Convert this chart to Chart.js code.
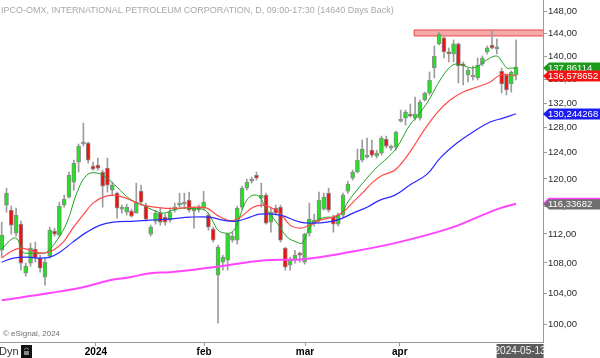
<!DOCTYPE html>
<html><head><meta charset="utf-8">
<script src="https://cdn.jsdelivr.net/npm/chart.js@4.4.1/dist/chart.umd.min.js"></script>
<style>html,body{margin:0;padding:0;background:#fff;overflow:hidden}canvas{display:block}</style>
</head><body>
<canvas id="c" width="600" height="358"></canvas>
<script>
// ---- data ----
const opens = [109.74,116.13,115.40,112.12,113.39,106.62,107.97,109.88,108.65,106.08,
108.92,112.40,111.84,116.13,117.30,119.53,122.57,125.38,125.53,121.96,
122.11,121.05,121.65,118.33,117.88,115.55,115.11,115.26,114.97,118.18,
115.98,111.98,113.82,114.97,114.39,113.96,115.40,116.13,116.42,116.86,
115.26,115.83,115.69,114.68,112.68,106.35,108.10,108.37,111.13,111.13,
115.83,118.63,119.68,120.59,117.15,117.59,113.67,115.69,115.83,110.02,
107.70,108.37,109.33,108.10,112.12,113.53,113.96,115.55,117.88,114.39,
113.39,114.68,118.18,120.14,121.05,122.88,123.34,124.43,123.50,123.96,
126.17,124.90,124.90,129.05,129.53,130.18,129.53,129.53,132.50,133.66,
137.93,142.16,143.24,140.74,140.38,142.16,138.64,136.73,136.56,136.21,
138.64,140.74,141.98,141.27,137.42,136.73,135.19,136.73];
const highs = [113.67,118.63,115.98,115.69,113.82,107.97,110.72,110.86,109.06,108.65,
112.96,112.82,116.57,117.59,121.05,122.88,125.38,128.72,125.69,122.57,
123.19,121.35,123.19,119.53,118.04,116.13,116.28,115.55,119.38,119.08,
116.42,113.25,115.40,115.69,114.82,115.69,116.42,117.88,117.88,118.04,
115.83,116.13,118.18,114.97,112.96,110.44,109.06,112.12,112.26,115.98,
118.93,120.00,120.29,121.05,119.38,117.88,115.83,116.13,116.13,110.16,
108.79,109.74,109.47,112.12,116.42,114.82,118.04,117.88,118.63,114.68,
114.97,117.88,119.68,121.35,124.58,126.01,126.33,126.01,124.43,126.64,
126.64,125.22,127.44,130.84,130.84,131.83,133.00,132.50,133.83,137.25,
141.80,144.31,143.42,141.45,142.88,142.34,138.98,137.93,138.29,139.68,
140.03,141.80,144.49,143.06,137.93,136.90,137.42,142.88];
const lows = [108.79,115.11,111.98,111.70,107.02,106.22,107.56,108.10,106.75,105.02,
108.65,111.70,111.56,115.83,117.15,118.33,121.05,125.06,122.42,121.35,
121.35,115.83,118.04,117.59,114.25,114.97,114.68,114.39,114.97,116.13,
113.82,111.70,113.39,113.25,113.25,113.67,115.11,115.83,115.69,115.11,
112.82,115.11,115.40,112.54,110.86,100.13,107.02,107.02,110.86,110.58,
115.55,118.33,119.38,119.83,115.83,113.39,112.26,114.68,110.86,107.02,
107.02,107.97,108.10,107.83,111.70,113.11,113.67,115.40,115.11,112.26,
113.11,114.39,117.88,119.83,120.90,122.57,123.19,123.34,123.19,123.65,
124.74,124.43,124.43,128.89,128.40,129.70,129.21,129.21,132.33,133.33,
136.21,141.98,139.68,138.98,138.98,135.36,135.02,135.53,135.87,135.87,
138.29,140.38,141.27,140.38,133.66,133.33,133.83,135.87];
const closes = [111.84,117.88,113.25,114.68,107.97,107.56,110.02,108.65,107.29,108.10,
112.54,111.98,115.98,117.01,120.59,122.42,125.06,125.53,122.88,121.50,
121.65,118.93,119.08,119.08,115.69,115.83,115.83,114.54,116.57,116.57,
114.11,112.96,114.97,113.67,113.67,115.11,115.83,116.42,116.28,115.40,
115.69,115.55,116.57,112.96,111.13,110.16,108.79,111.98,111.70,115.69,
118.63,119.53,119.83,120.14,117.59,113.53,115.11,114.97,111.13,107.43,
108.37,109.06,109.06,111.98,114.11,113.96,116.86,117.30,115.40,113.39,
114.68,117.59,119.23,121.05,122.88,124.58,123.65,123.65,123.96,126.33,
125.06,124.74,127.28,129.21,130.51,129.86,130.18,132.17,133.66,135.87,
140.03,143.95,140.74,140.38,142.16,138.29,138.29,137.59,136.38,138.46,
139.68,141.45,141.45,141.62,135.19,134.17,137.25,138.12];

// moving averages, read at sample bars (bar index, price)
const maGreenX = [0,2.4,3.4,4.4,5.9,8.0,9.4,11.5,13.6,15.7,17.7,19.8,21.9,24.0,26.7,29.4,31.5,33.6,35.6,37.7,40.6,42.3,43.8,45.0,46.5,47.9,48.9,50.0,51.0,52.3,53.7,54.8,57.3,59.4,61.4,62.5,63.5,64.8,66.6,67.9,69.3,70.8,72.0,73.9,76.0,78.1,80.2,81.8,82.9,84.9,87.0,89.1,91.2,93.3,94.7,96.8,98.0,99.5,100.9,103.0,104.1,105.1,106.1,107];
const maGreenY = [109.88,111.42,111.13,109.47,109.33,109.33,109.47,111.13,113.67,118.04,120.59,120.90,120.14,118.78,117.01,116.13,115.40,114.97,115.40,115.69,115.55,115.40,113.96,112.54,112.12,112.26,113.25,115.40,116.86,117.59,117.30,115.83,113.53,111.56,110.86,110.72,112.12,113.53,114.25,114.39,114.39,115.11,116.57,118.33,120.14,121.81,123.19,124.43,125.70,128.40,130.35,132.83,135.87,138.12,138.64,138.12,137.93,138.46,139.33,140.03,138.98,137.93,137.93,137.86];
const maRedX = [0,1.7,3.8,5.9,8.6,10.7,12.8,14.8,16.9,19.0,21.1,23.2,25.2,27.3,29.4,33.6,37.1,40.6,42.7,44.8,46.9,48.5,50.2,52.3,54.4,55.8,57.9,60.0,62.1,64.1,66.2,68.9,71.0,73.1,75.2,77.2,79.3,81.8,84.9,87.6,90.5,93.3,96.0,98.9,101.6,103.7,105.7,107];
const maRedY = [108.65,109.47,110.02,109.74,109.33,109.74,110.86,112.82,114.68,116.42,117.30,117.59,117.30,116.71,116.13,115.69,115.69,115.83,115.69,114.68,113.96,113.96,114.68,115.83,116.13,115.83,114.97,113.25,112.82,113.25,113.96,114.39,115.11,116.57,118.04,119.53,120.59,121.35,124.12,127.28,130.35,132.50,133.83,134.68,135.53,136.73,136.73,136.578652];
const maBlueX = [0,2.4,5.3,8.0,10.0,12.1,14.8,17.7,20.5,23.2,27.7,30.9,35.0,39.2,43.3,46.0,48.9,51.7,53.7,57.9,62.1,64.8,67.7,70.4,73.1,76.0,78.7,81.8,84.9,88.5,91.2,94.7,98.0,101.6,104.3,107];
const maBlueY = [108.10,108.65,108.79,108.65,108.79,109.47,110.86,112.26,113.25,113.67,113.82,113.96,114.11,114.39,114.39,113.96,113.82,114.39,114.82,114.68,113.67,113.53,113.67,114.11,114.97,115.83,116.86,117.59,119.08,120.74,123.19,125.53,127.28,128.89,129.53,130.244268];
const maPinkX = [0,10.0,16.9,22.5,26.7,30.9,35.0,43.9,54.8,62.7,71.0,81.8,93.3,99.5,103.7,107];
const maPinkY = [103.06,104.00,104.76,105.68,106.08,106.62,106.75,107.43,108.37,108.51,109.33,110.72,112.82,114.54,115.69,116.33682];

// resistance band (bar index range, price range)
const bandX = [85.8, 113];
const bandY = [143.59, 144.68];

// axis labels
const yTicks = [100,104,108,112,116,120,124,128,132,136,140,144,148];
const xTickIndex = [19.6, 42.1, 63.1, 82.8];
const xTickLabels = ['2024','feb','mar','apr'];
const lastDate = '2024-05-13';
const lastValues = [
  {v:137.86114, t:'137,86114', bg:'#1d9b1d'},
  {v:136.578652, t:'136,578652', bg:'#f21414'},
  {v:130.244268, t:'130,244268', bg:'#1c1cf0'},
  {v:116.33682, t:'116,33682', bg:'#6e6e6e', top:'#ff40ff'}
];
const titleText = 'IPCO-OMX, INTERNATIONAL PETROLEUM CORPORATION, D, 09:00-17:30 (14640 Days Back)';

// ---- build ----
const FONT = '"Liberation Sans", Arial, sans-serif';
const idx = closes.map((_, i) => i);
const wickData = idx.map(i => ({x: i, y: [lows[i], highs[i]]}));
const bodyData = idx.map(i => ({x: i, y: [opens[i], closes[i]]}));
const bodyColors = idx.map(i => Math.abs(closes[i]-opens[i]) < 0.2 ? '#9a9a9a' : (closes[i] > opens[i] ? '#22e222' : '#f01010'));
const pts = (xs, ys) => xs.map((x, i) => ({x, y: ys[i]}));
const bandPts = [
  {x:bandX[0], y:bandY[0]}, {x:bandX[0], y:bandY[1]},
  {x:bandX[1], y:bandY[1]}, {x:bandX[1], y:bandY[0]}, {x:bandX[0], y:bandY[0]}
];

const overlay = {
  id: 'overlay',
  afterDraw(chart) {
    const ctx = chart.ctx;
    const ys = chart.scales.y, xs = chart.scales.x;
    const ca = chart.chartArea;
    ctx.save();
    ctx.font = '9px ' + FONT;
    ctx.fillStyle = '#a8a8a8';
    ctx.textBaseline = 'middle';
    ctx.textAlign = 'left';
    ctx.fillText(titleText, 1, 11);
    ctx.font = '8px ' + FONT;
    ctx.fillStyle = '#707070';
    ctx.fillText('\u00A9 eSignal, 2024', 3, 334);
    ctx.font = '11px ' + FONT;
    ctx.fillStyle = '#333';
    ctx.fillText('Dyn', -1, 352);
    ctx.fillStyle = '#111';
    ctx.fillRect(21, 345, 11, 13);
    ctx.strokeStyle = '#888'; ctx.lineWidth = 1;
    ctx.beginPath(); ctx.arc(26.5, 350, 2, Math.PI, 0); ctx.stroke();
    ctx.fillStyle = '#888'; ctx.fillRect(24, 351, 5, 4);
    const cx = xs.getPixelForValue(closes.length - 1) + 3.5;
    ctx.fillStyle = '#5c5c5c';
    ctx.fillRect(cx - 23, 344, 47, 14);
    ctx.fillStyle = '#f4f4f4';
    ctx.font = '10px ' + FONT;
    ctx.textAlign = 'center';
    ctx.fillText(lastDate, cx + 0.5, 351.5);
    ctx.textAlign = 'left';
    ctx.font = '9.5px ' + FONT;
    const x0 = ca.right;
    [3,2,0,1].forEach(k => {
      const L = lastValues[k];
      const y = Math.round(ys.getPixelForValue(L.v));
      const h = 11;
      ctx.beginPath();
      ctx.moveTo(x0, y);
      ctx.lineTo(x0 + 6, y - h/2);
      ctx.lineTo(600, y - h/2);
      ctx.lineTo(600, y + h/2);
      ctx.lineTo(x0 + 6, y + h/2);
      ctx.closePath();
      ctx.fillStyle = L.bg;
      ctx.fill();
      if (L.top) {
        ctx.strokeStyle = L.top; ctx.lineWidth = 1.5;
        ctx.beginPath(); ctx.moveTo(x0, y); ctx.lineTo(x0+6, y - h/2); ctx.lineTo(600, y - h/2); ctx.stroke();
      }
      ctx.fillStyle = '#fff';
      ctx.fillText(L.t, x0 + 5, y + 0.5);
    });
    ctx.restore();
  }
};

new Chart(document.getElementById('c'), {
  data: {
    datasets: [
      {type:'line', data: pts(maPinkX, maPinkY), borderColor:'#ff45ff', borderWidth:2, pointRadius:0, tension:0.4, order:0},
      {type:'line', data: pts(maBlueX, maBlueY), borderColor:'#2a2aff', borderWidth:1.2, pointRadius:0, tension:0.4, order:0},
      {type:'line', data: pts(maRedX, maRedY), borderColor:'#ff4a4a', borderWidth:1.2, pointRadius:0, tension:0.4, order:0},
      {type:'line', data: pts(maGreenX, maGreenY), borderColor:'#22a022', borderWidth:1, pointRadius:0, tension:0.4, order:0},
      {type:'bar', data: bodyData, backgroundColor: bodyColors, borderColor:'#8a8a8a', borderWidth:1, borderSkipped:false, barThickness:4, minBarLength:2, grouped:false, order:1},
      {type:'bar', data: wickData, backgroundColor:'#9c9c9c', barThickness:1, grouped:false, order:2},
      {type:'line', data: bandPts, borderColor:'#e84a4a', borderWidth:1, backgroundColor:'rgba(242,110,110,0.6)', fill:'shape', pointRadius:0, tension:0, order:3}
    ]
  },
  options: {
    responsive:false, animation:false, events:[],
    devicePixelRatio:1,
    layout:{padding:0},
    plugins:{legend:{display:false}, tooltip:{enabled:false}, title:{display:false}},
    scales:{
      x:{
        type:'linear', min:-0.35, max:112.6, position:'bottom', offset:false,
        afterFit(s){ s.height = 16; s.paddingLeft = 0; s.paddingRight = 0; },
        afterBuildTicks(s){ s.ticks = xTickIndex.map(v => ({value:v})); },
        ticks:{autoSkip:false, maxRotation:0, padding:0, color:'#000',
          font:{family:FONT, size:10, weight:'bold'},
          callback:(v, i) => xTickLabels[i]},
        grid:{drawOnChartArea:false, drawTicks:true, tickLength:4, color:'#9a9a9a', offset:false},
        border:{color:'#9a9a9a', width:1}
      },
      y:{
        type:'logarithmic', position:'right', min:97.80, max:150.22,
        afterFit(s){ s.width = 57; s.paddingTop = 0; s.paddingBottom = 0; },
        afterBuildTicks(s){ s.ticks = yTicks.map(v => ({value:v})); },
        ticks:{autoSkip:false, padding:1, color:'#2a2a2a',
          font:{family:FONT, size:9.5},
          callback:(v) => Number(v).toFixed(2).replace('.', ',')},
        grid:{drawOnChartArea:false, drawTicks:true, tickLength:4, color:'#9a9a9a'},
        border:{color:'#9a9a9a', width:1}
      }
    }
  },
  plugins:[overlay]
});
</script>
</body></html>
